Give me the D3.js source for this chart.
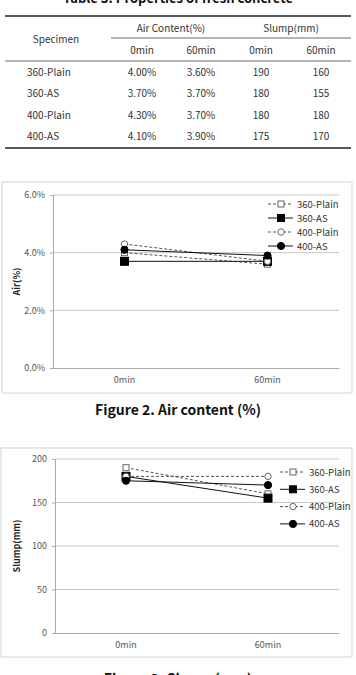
<!DOCTYPE html>
<html>
<head>
<meta charset="utf-8">
<script src="https://cdn.jsdelivr.net/npm/d3@7"></script>
<style>
  body { margin: 0; background: #fff; }
  svg { display: block; }
  text { font-family: "Noto Sans CJK KR", "Noto Sans", sans-serif; }
</style>
</head>
<body>
<svg id="page" width="356" height="675"></svg>
<script>
var specimens = ['360-Plain', '360-AS', '400-Plain', '400-AS'];
var times = ['0min', '60min'];
var air0 = [4.00, 3.70, 4.30, 4.10];
var air60 = [3.60, 3.70, 3.70, 3.90];
var slump0 = [190, 180, 180, 175];
var slump60 = [160, 155, 180, 170];
var airTicks = [0, 2, 4, 6];
var slumpTicks = [0, 50, 100, 150, 200];

var svg = d3.select('#page');

// ---- table ----
svg.append('text').attr('x', 178).attr('y', 3).attr('text-anchor', 'middle')
  .attr('font-size', 13).attr('font-weight', 'bold').attr('fill', '#111')
  .text('Table 3. Properties of fresh concrete');

var tbl = svg.append('g').attr('font-size', 10).attr('fill', '#333');
tbl.append('line').attr('x1', 5).attr('x2', 351).attr('y1', 16).attr('y2', 16).attr('stroke', '#222').attr('stroke-width', 1.6);
tbl.append('line').attr('x1', 111).attr('x2', 351).attr('y1', 38).attr('y2', 38).attr('stroke', '#444').attr('stroke-width', 0.8);
tbl.append('line').attr('x1', 5).attr('x2', 351).attr('y1', 61).attr('y2', 61).attr('stroke', '#444').attr('stroke-width', 0.8);
tbl.append('line').attr('x1', 5).attr('x2', 351).attr('y1', 148).attr('y2', 148).attr('stroke', '#222').attr('stroke-width', 1.6);

tbl.append('text').attr('x', 56).attr('y', 43).attr('text-anchor', 'middle').text('Specimen');
tbl.append('text').attr('x', 171).attr('y', 32).attr('text-anchor', 'middle').text('Air  Content(%)');
tbl.append('text').attr('x', 291).attr('y', 32).attr('text-anchor', 'middle').text('Slump(mm)');
var colX = [142, 201, 261, 321];
[times[0], times[1], times[0], times[1]].forEach(function(t, i) {
  tbl.append('text').attr('x', colX[i]).attr('y', 54).attr('text-anchor', 'middle').text(t);
});
var rowY = [76, 97, 119, 140];
specimens.forEach(function(s, i) {
  tbl.append('text').attr('x', 27).attr('y', rowY[i]).text(s);
  var vals = [air0[i].toFixed(2) + '%', air60[i].toFixed(2) + '%', slump0[i], slump60[i]];
  vals.forEach(function(v, j) {
    tbl.append('text').attr('x', colX[j]).attr('y', rowY[i]).attr('text-anchor', 'middle').text(v);
  });
});

// ---- line charts ----
var styles = [
  { dash: '3,2', color: '#555', shape: 'square', fill: '#fff' },
  { dash: null, color: '#111', shape: 'square', fill: '#000' },
  { dash: '3,2', color: '#555', shape: 'circle', fill: '#fff' },
  { dash: null, color: '#111', shape: 'circle', fill: '#000' }
];

function marker(g, st, x, y, big) {
  if (st.shape === 'square') {
    var s = st.fill === '#000' ? (big ? 8 : 7) : 6;
    g.append('rect').attr('x', x - s / 2).attr('y', y - s / 2).attr('width', s).attr('height', s)
      .attr('fill', st.fill).attr('stroke', st.fill === '#000' ? '#000' : '#666').attr('stroke-width', 1);
  } else {
    g.append('circle').attr('cx', x).attr('cy', y).attr('r', st.fill === '#000' ? 3.6 : 3.2)
      .attr('fill', st.fill).attr('stroke', st.fill === '#000' ? '#000' : '#666').attr('stroke-width', 1);
  }
}

function buildChart(o) {
  var g = svg.append('g');
  g.append('rect').attr('x', o.frame[0]).attr('y', o.frame[1]).attr('width', o.frame[2]).attr('height', o.frame[3])
    .attr('fill', '#fff').attr('stroke', '#d4d4d4').attr('stroke-width', 1);

  var x = d3.scaleBand().domain(times).range([o.left, o.right]);
  var y = d3.scaleLinear().domain(o.domain).range([o.bottom, o.top]);

  g.selectAll('.grid').data(o.ticks.slice(1)).enter().append('line')
    .attr('x1', o.left).attr('x2', o.right).attr('y1', d => y(d)).attr('y2', d => y(d))
    .attr('stroke', '#c8c8c8').attr('stroke-width', 1);

  var yAxis = g.append('g').attr('transform', 'translate(' + o.left + ',0)')
    .call(d3.axisLeft(y).tickValues(o.ticks).tickFormat(o.fmt).tickSize(3).tickPadding(5));
  yAxis.select('.domain').attr('stroke', '#aaa');
  yAxis.selectAll('.tick line').attr('stroke', '#aaa');
  yAxis.selectAll('text').attr('font-size', 9).attr('fill', '#555').attr('font-family', '"Noto Sans", sans-serif');

  var xAxis = g.append('g').attr('transform', 'translate(0,' + o.bottom + ')')
    .call(d3.axisBottom(x).tickSize(0).tickPadding(9));
  xAxis.select('.domain').attr('stroke', '#aaa');
  xAxis.selectAll('text').attr('font-size', 9).attr('fill', '#555').attr('font-family', '"Noto Sans", sans-serif');

  g.append('text').attr('transform', 'translate(' + o.titleX + ',' + ((o.top + o.bottom) / 2) + ') rotate(-90)')
    .attr('text-anchor', 'middle').attr('font-size', 9).attr('font-weight', 'bold').attr('fill', '#222')
    .attr('font-family', '"Noto Sans", sans-serif').text(o.title);

  var line = d3.line().x(d => x(d.t) + x.bandwidth() / 2).y(d => y(d.v));
  specimens.forEach(function(s, i) {
    var st = styles[i];
    var pts = [{ t: times[0], v: o.v0[i] }, { t: times[1], v: o.v60[i] }];
    g.append('path').datum(pts).attr('d', line).attr('fill', 'none')
      .attr('stroke', st.color).attr('stroke-width', 1).attr('stroke-dasharray', st.dash);
    pts.forEach(function(p) { marker(g, st, x(p.t) + x.bandwidth() / 2, y(p.v), true); });
  });

  // legend
  specimens.forEach(function(s, i) {
    var st = styles[i];
    var ly = o.legY + i * o.legStep;
    g.append('line').attr('x1', o.legX).attr('x2', o.legX + 25).attr('y1', ly).attr('y2', ly)
      .attr('stroke', st.color).attr('stroke-width', 1).attr('stroke-dasharray', st.dash);
    marker(g, st, o.legX + 13, ly, false);
    g.append('text').attr('x', o.legX + 29).attr('y', ly + 3.5).attr('font-size', 9.5).attr('fill', '#333')
      .attr('font-family', '"Noto Sans", sans-serif').text(s);
  });

  svg.append('text').attr('x', 178).attr('y', o.capY).attr('text-anchor', 'middle')
    .attr('font-size', 14).attr('font-weight', 'bold').attr('fill', '#111').text(o.caption);
}

buildChart({
  frame: [2, 182, 350, 211], left: 53, right: 339, top: 195, bottom: 368,
  domain: [0, 6], ticks: airTicks, fmt: d => d.toFixed(1) + '%',
  title: 'Air(%)', titleX: 20, v0: air0, v60: air60,
  legX: 268, legY: 204, legStep: 14, capY: 415, caption: 'Figure 2. Air content (%)'
});

buildChart({
  frame: [1, 448, 351, 209], left: 55, right: 339, top: 459, bottom: 633,
  domain: [0, 200], ticks: slumpTicks, fmt: d => d,
  title: 'Slump(mm)', titleX: 20, v0: slump0, v60: slump60,
  legX: 280, legY: 472, legStep: 17.3, capY: 684, caption: 'Figure 3. Slump (mm)'
});
</script>
</body>
</html>
